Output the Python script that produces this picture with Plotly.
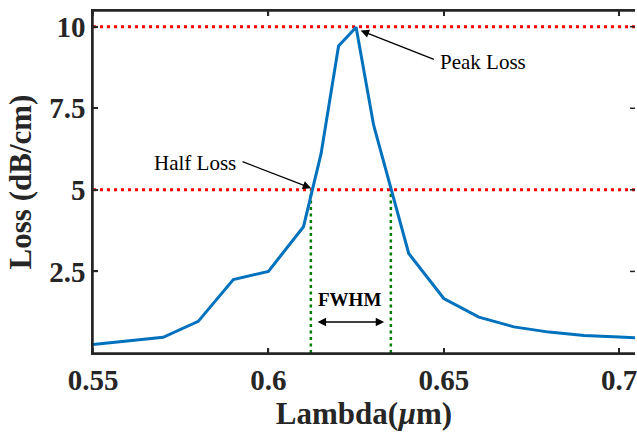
import plotly.graph_objects as go

# Data
wavelength = [0.55, 0.56, 0.57, 0.58, 0.59, 0.60, 0.61, 0.615, 0.62, 0.625,
              0.63, 0.64, 0.65, 0.66, 0.67, 0.68, 0.69, 0.70, 0.71]
loss = [0.26, 0.36, 0.48, 0.97, 2.25, 2.5, 3.87, 6.1, 9.41, 9.98,
        6.98, 3.05, 1.67, 1.10, 0.80, 0.64, 0.54, 0.49, 0.44]
x_range = [0.55, 0.7045]
y_range = [0, 10.48]
peak_level = 10
half_level = 5
fwhm_left = 0.6121
fwhm_right = 0.6349
x_ticks = [0.55, 0.6, 0.65, 0.7]
x_ticklabels = ["0.55", "0.6", "0.65", "0.7"]
y_ticks = [2.5, 5, 7.5, 10]
y_ticklabels = ["2.5", "5", "7.5", "10"]

AX = "#262626"
SERIF = "Liberation Serif"

fig = go.Figure()
for lvl in (peak_level, half_level):
    fig.add_trace(go.Scatter(x=x_range, y=[lvl, lvl], mode="lines",
                             line=dict(color="#ff0000", width=3, dash="3px,4px"),
                             showlegend=False, hoverinfo="skip"))
for xv in (fwhm_left, fwhm_right):
    fig.add_trace(go.Scatter(x=[xv, xv], y=[0, half_level], mode="lines",
                             line=dict(color="#008000", width=2.5, dash="3px,3.5px"),
                             showlegend=False, hoverinfo="skip"))
fig.add_trace(go.Scatter(x=wavelength, y=loss, mode="lines",
                         line=dict(color="#0072BD", width=3),
                         showlegend=False))

ann_font = dict(family=SERIF, size=21, color="#000000")
annotations = [
    dict(x=0.5791, y=5.82, text="Half Loss", showarrow=False, font=ann_font,
         xref="x", yref="y"),
    dict(x=0.6122, y=5.05, ax=0.5922, ay=5.88, axref="x", ayref="y",
         xref="x", yref="y", text="", showarrow=True, arrowhead=2,
         arrowsize=1.3, arrowwidth=1.3, arrowcolor="#000000"),
    dict(x=0.6611, y=8.92, text="Peak Loss", showarrow=False, font=ann_font,
         xref="x", yref="y"),
    dict(x=0.6263, y=9.88, ax=0.6476, ay=8.98, axref="x", ayref="y",
         xref="x", yref="y", text="", showarrow=True, arrowhead=2,
         arrowsize=1.3, arrowwidth=1.3, arrowcolor="#000000"),
    dict(x=0.6230, y=1.645, text="<b>FWHM</b>", showarrow=False,
         font=dict(family=SERIF, size=19, color="#000000"), xref="x", yref="y"),
    dict(x=0.6330, y=0.95, ax=0.6136, ay=0.95, axref="x", ayref="y",
         xref="x", yref="y", text="", showarrow=True, arrowhead=2,
         startarrowhead=2, arrowside="end+start", arrowsize=1.3,
         startarrowsize=1.3, arrowwidth=1.3, arrowcolor="#000000"),
]

# Axes frame (left, bottom, top) and inward ticks as shapes
frame = dict(color=AX, width=1.5)
shapes = [
    dict(type="line", xref="paper", yref="paper", x0=0, x1=1, y0=0, y1=0, line=frame, layer="above"),
    dict(type="line", xref="paper", yref="paper", x0=0, x1=1, y0=1, y1=1, line=frame, layer="above"),
    dict(type="line", xref="paper", yref="paper", x0=0, x1=0, y0=0, y1=1, line=frame, layer="above"),
]
for xt in x_ticks:
    shapes.append(dict(type="line", xref="x", yref="paper", x0=xt, x1=xt,
                       ysizemode="pixel", yanchor=0, y0=0, y1=5, line=frame, layer="above"))
    shapes.append(dict(type="line", xref="x", yref="paper", x0=xt, x1=xt,
                       ysizemode="pixel", yanchor=1, y0=0, y1=-5, line=frame, layer="above"))
for yt in y_ticks:
    shapes.append(dict(type="line", xref="paper", yref="y", y0=yt, y1=yt,
                       xsizemode="pixel", xanchor=0, x0=0, x1=5, line=frame, layer="above"))
    shapes.append(dict(type="line", xref="paper", yref="y", y0=yt, y1=yt,
                       xsizemode="pixel", xanchor=1, x0=0, x1=-5, line=frame, layer="above"))

tickfont = dict(family=SERIF, size=29, color=AX, weight="bold")
titlefont = dict(family=SERIF, size=31, color=AX, weight="bold")

fig.update_layout(
    width=637, height=434,
    margin=dict(l=93, r=0, t=11, b=81),
    paper_bgcolor="white", plot_bgcolor="white",
    annotations=annotations,
    shapes=shapes,
    xaxis=dict(range=x_range, tickvals=x_ticks, ticktext=x_ticklabels,
               ticks="inside", ticklen=5, tickwidth=1.5, tickcolor=AX,
               showline=True, linecolor=AX, linewidth=1.5, mirror="ticks",
               showgrid=False, zeroline=False, ticklabeloverflow="allow",
               tickfont=tickfont,
               title=dict(text="Lambda(<i>µ</i>m)", standoff=6, font=titlefont)),
    yaxis=dict(range=y_range, tickvals=y_ticks, ticktext=y_ticklabels,
               ticks="inside", ticklen=5, tickwidth=1.5, tickcolor=AX,
               showline=True, linecolor=AX, linewidth=1.5, mirror=False,
               showgrid=False, zeroline=False,
               tickfont=tickfont,
               title=dict(text="Loss (dB/cm)", standoff=8, font=titlefont)),
)

fig.write_html("out.html")
